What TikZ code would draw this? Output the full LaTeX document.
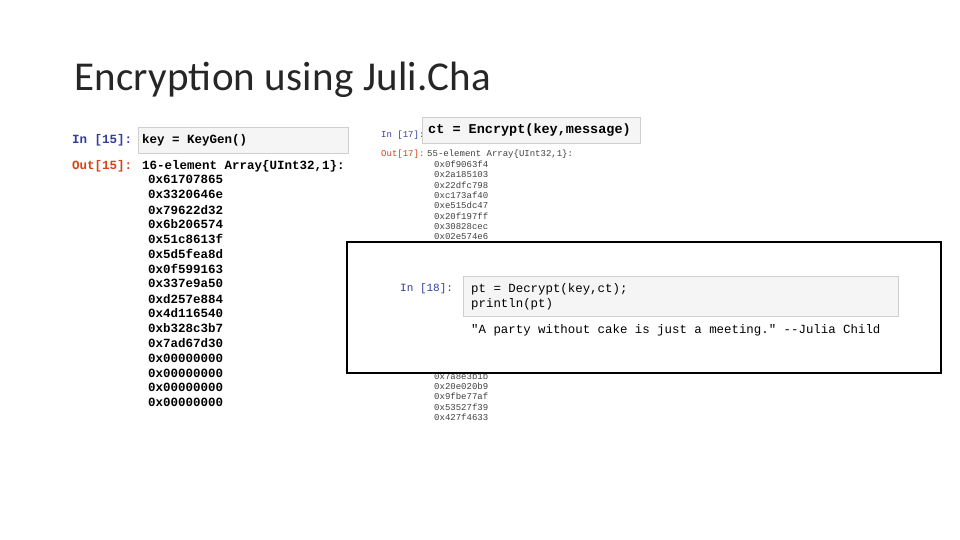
\documentclass[tikz,border=0pt]{standalone}
\usepackage{fontspec}
\setmainfont{Carlito}
\setmonofont{Liberation Mono}
\definecolor{inblue}{HTML}{303F9F}
\definecolor{outred}{HTML}{D84315}
\definecolor{cellbg}{HTML}{F5F5F5}
\definecolor{cellbd}{HTML}{CFCFCF}
\tikzset{
 cell/.style={draw=cellbd,fill=cellbg,line width=0.8pt},
 hexA/.style={anchor=west,font=\ttfamily\fontsize{12.5}{13}\selectfont,inner sep=0pt},
 hexB/.style={anchor=west,font=\ttfamily\fontsize{9}{10}\selectfont,inner sep=0pt,text=black!75},
 code/.style={anchor=west,inner sep=0pt,font=\ttfamily\fontsize{13}{14}\selectfont},
}
\begin{document}
\begin{tikzpicture}[x=1pt,y=-1pt]
\useasboundingbox[fill=white] (0,0) rectangle (960,540);
\node[anchor=west,inner sep=0pt,text=black!85,font=\fontsize{41}{46}\selectfont\addfontfeatures{LetterSpace=0.6}] (title) at (74,80) {Encryption using Juli.Cha};
% left
\node[code,text=inblue,font=\ttfamily\bfseries\fontsize{12.5}{13}\selectfont] (in15) at (72,140) {In [15]:};
\path[cell] (138,127) rectangle (348,153);
\node[code,font=\ttfamily\bfseries\fontsize{12.5}{13}\selectfont] (c15) at (142,140) {key = KeyGen()};
\node[code,text=outred,font=\ttfamily\bfseries\fontsize{12.5}{13}\selectfont] (out15) at (72,166) {Out[15]:};
\node[hexA,font=\ttfamily\bfseries\fontsize{12.5}{13}\selectfont] (h0) at (142,166) {16-element Array\{UInt32,1\}:};
\foreach \v [count=\i] in {0x61707865,0x3320646e,0x79622d32,0x6b206574,0x51c8613f,0x5d5fea8d,0x0f599163,0x337e9a50,0xd257e884,0x4d116540,0xb328c3b7,0x7ad67d30,0x00000000,0x00000000,0x00000000,0x00000000}
  \node[hexA,font=\ttfamily\bfseries\fontsize{12.5}{13}\selectfont] (l\i) at (148,165+14.85*\i) {\v};
% middle
\node[hexB,text=inblue] (in17) at (381,135) {In [17]:};
\path[cell] (422,117) rectangle (640,143);
\node[code,font=\ttfamily\bfseries\fontsize{13.5}{14}\selectfont] (c17) at (428,130) {ct = Encrypt(key,message)};
\node[hexB,text=outred] (out17) at (381,154) {Out[17]:};
\node[hexB] (m0) at (427,154) {55-element Array\{UInt32,1\}:};
\foreach \v [count=\i] in {0x0f9063f4,0x2a185103,0x22dfc798,0xc173af40,0xe515dc47,0x20f197ff,0x30828cec,0x02e574e6,0x0a1c7f44}
  \node[hexB] (m\i) at (434,154+10.3*\i) {\v};
\foreach \v [count=\i] in {0x7a8e3b1b,0x20e020b9,0x9fbe77af,0x53527f39,0x427f4633}
  \node[hexB] (n\i) at (434,366+10.2*\i) {\v};
% front panel
\draw[fill=white,line width=1.6pt] (347,242) rectangle (941,373);
\node[hexB,font=\ttfamily\fontsize{11}{12}\selectfont,text=inblue] (in18) at (400,289) {In [18]:};
\path[cell] (463,276) rectangle (898,316);
\node[code,font=\ttfamily\fontsize{12.4}{13}\selectfont] (c18a) at (471,289) {pt = Decrypt(key,ct);};
\node[code,font=\ttfamily\fontsize{12.4}{13}\selectfont] (c18b) at (471,304) {println(pt)};
\node[code,font=\ttfamily\fontsize{12.4}{13}\selectfont] (o18) at (471,330) {"A party without cake is just a meeting." --Julia Child};
\end{tikzpicture}
\end{document}
